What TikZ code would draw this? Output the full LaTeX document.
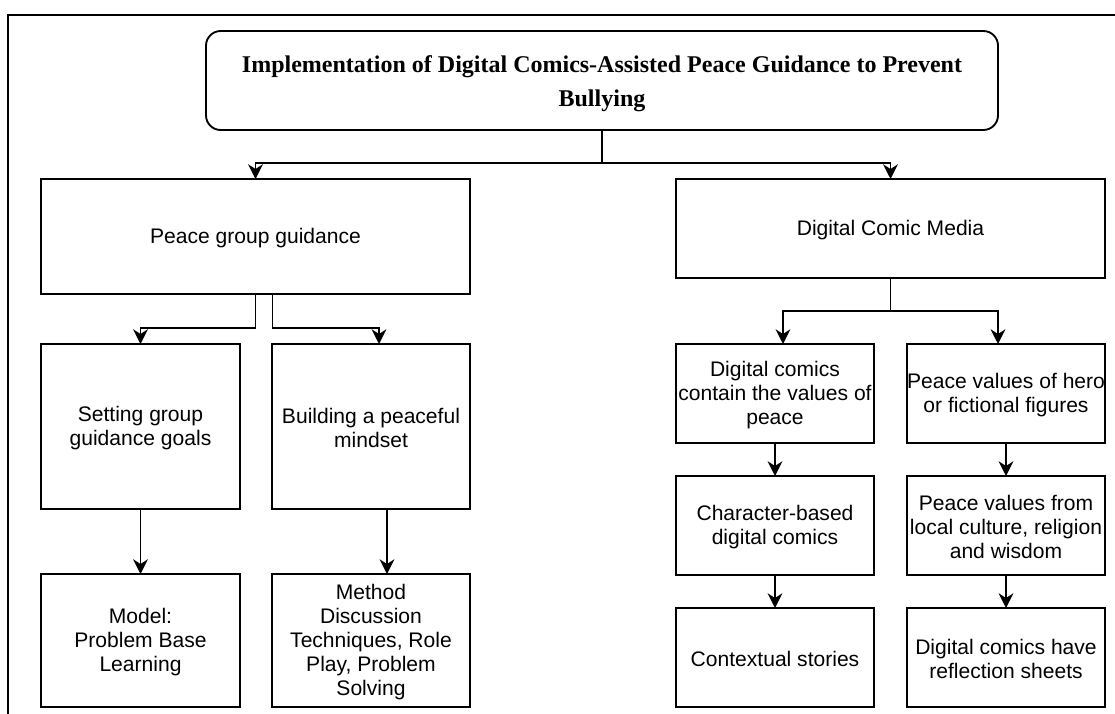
\documentclass[tikz,border=0pt]{standalone}
\usepackage{fontspec}
\setmainfont{Liberation Sans}
\newfontfamily\titlefont{Liberation Serif}
\usetikzlibrary{arrows.meta,calc}
\tikzset{
  box/.style={draw, line width=1.4pt, inner sep=0pt, outer sep=0pt, align=center,
    font=\fontsize{15.8pt}{18pt}\selectfont},
  arr/.style={draw, line width=1.4pt, -{Stealth[length=11pt,width=11pt,inset=3.5pt]}},
  ln/.style={draw, line width=1.4pt},
}
\begin{document}
\begin{tikzpicture}[x=0.75pt,y=-0.75pt]
\useasboundingbox (0,0) rectangle (1115,714);
% frame
\draw[line width=1.5pt] (8,714) -- (8,15) -- (1115,15);
% title
\node[box, rounded corners=11pt, minimum width=792*0.75pt, minimum height=99*0.75pt,
  font=\titlefont\bfseries\fontsize{18pt}{25.5pt}\selectfont] (title) at (602,80.5)
  {\rule{0pt}{17pt}Implementation of Digital Comics-Assisted Peace Guidance to Prevent\\Bullying};
% level 1
\node[box, minimum width=429*0.75pt, minimum height=115*0.75pt] (pgg) at (255.5,236.5) {\rule{0pt}{14pt}Peace group guidance};
\node[box, minimum width=429*0.75pt, minimum height=99*0.75pt] (dcm) at (890.5,228.5) {\rule{0pt}{14pt}Digital Comic Media};
% left column
\node[box, minimum width=199*0.75pt, minimum height=165*0.75pt] (sgg) at (140.5,426.5) {\rule{0pt}{14pt}Setting group\\guidance goals};
\node[box, minimum width=198*0.75pt, minimum height=165*0.75pt] (bpm) at (371,426.5) {\rule{0pt}{14pt}Building a peaceful\\mindset};
\node[box, minimum width=199*0.75pt, minimum height=133*0.75pt] (model) at (140.5,640.5) {\rule{0pt}{14pt}Model:\\Problem Base\\Learning};
\node[box, minimum width=198*0.75pt, minimum height=133*0.75pt] (method) at (371,640.5) {\rule{0pt}{14pt}Method\\Discussion\\Techniques, Role\\Play, Problem\\Solving};
% right columns
\node[box, minimum width=198*0.75pt, minimum height=99*0.75pt] (dcc) at (775,393.5) {\rule{0pt}{14pt}Digital comics\\contain the values of\\peace};
\node[box, minimum width=198*0.75pt, minimum height=99*0.75pt] (hero) at (1006,393.5) {\rule{0pt}{14pt}Peace values of hero\\or fictional figures};
\node[box, minimum width=198*0.75pt, minimum height=99*0.75pt] (cbd) at (775,525.5) {\rule{0pt}{14pt}Character-based\\digital comics};
\node[box, minimum width=198*0.75pt, minimum height=99*0.75pt] (local) at (1006,525.5) {\rule{0pt}{14pt}Peace values from\\local culture, religion\\and wisdom};
\node[box, minimum width=198*0.75pt, minimum height=99*0.75pt] (ctx) at (775,657.5) {\rule{0pt}{14pt}Contextual stories};
\node[box, minimum width=198*0.75pt, minimum height=99*0.75pt] (refl) at (1006,657.5) {\rule{0pt}{14pt}Digital comics have\\reflection sheets};
% connectors from title
\coordinate (tj) at ($(title.south)+(0,33)$);
\draw[ln] (title.south) -- (tj);
\draw[arr] (tj) -| (pgg.north);
\draw[arr] (tj) -| (dcm.north);
% peace group guidance
\coordinate (pggR) at ($(pgg.south)+(17,0)$);
\coordinate (bpmIn) at ($(bpm.north)+(8,0)$);
\draw[arr] (pgg.south) -- ++(0,34) -| (sgg.north);
\draw[arr] (pggR) -- ++(0,34) -| (bpmIn);
\draw[arr] (sgg.south) -- (model.north);
\coordinate (bpmOut) at ($(bpm.south)+(16,0)$);
\draw[arr] (bpmOut) -- (bpmOut |- method.north);
% digital comic media
\coordinate (dj) at ($(dcm.south)+(0,33)$);
\coordinate (dccIn) at ($(dcc.north)+(8,0)$);
\coordinate (heroIn) at ($(hero.north)+(-8,0)$);
\draw[ln] (dcm.south) -- (dj);
\draw[arr] (dj) -| (dccIn);
\draw[arr] (dj) -| (heroIn);
\draw[arr] (dcc.south) -- (cbd.north);
\draw[arr] (cbd.south) -- (ctx.north);
\draw[arr] (hero.south) -- (local.north);
\draw[arr] (local.south) -- (refl.north);
\end{tikzpicture}
\end{document}
